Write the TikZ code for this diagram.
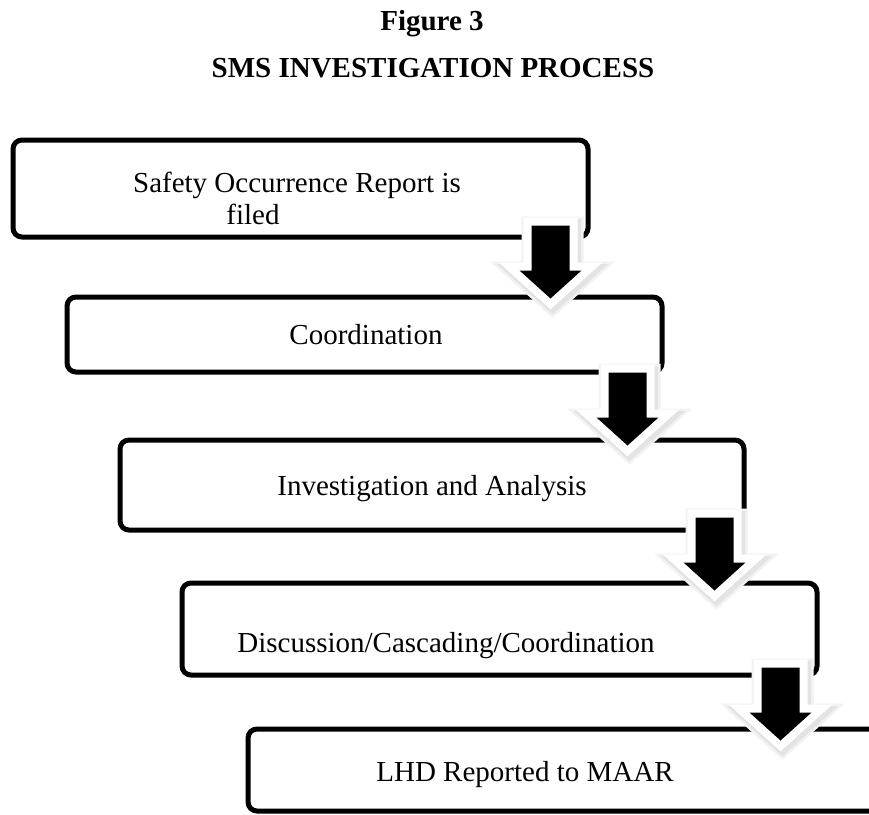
\documentclass[tikz,border=0pt]{standalone}
\usepackage{fontspec}
\setmainfont{Liberation Serif}
\usetikzlibrary{calc}
\tikzset{
  stepbox/.style={draw, line width=5pt, rounded corners=9pt, fill=white, inner sep=0pt},
  boxtext/.style={font=\fontsize{29}{32}\selectfont, inner sep=0pt, anchor=base},
  figtitle/.style={font=\fontsize{29}{32}\selectfont\bfseries, inner sep=0pt, anchor=base},
  flowarrow/.pic={
    % soft shadow, white rim, black arrow
    \filldraw[black!5, line width=24pt, line join=miter, miter limit=10, shift={(2,3)}]
      (-19,0) -- (19,0) -- (19,45) -- (31,45) -- (0,73) -- (-31,45) -- (-19,45) -- cycle;
    \filldraw[black!11, line width=19pt, line join=miter, miter limit=10, shift={(2,3)}]
      (-19,0) -- (19,0) -- (19,45) -- (31,45) -- (0,73) -- (-31,45) -- (-19,45) -- cycle;
    \filldraw[white, line width=16pt, line join=miter, miter limit=10]
      (-19,0) -- (19,0) -- (19,45) -- (31,45) -- (0,73) -- (-31,45) -- (-19,45) -- cycle;
    \fill[black]
      (-19,0) -- (19,0) -- (19,45) -- (31,45) -- (0,73) -- (-31,45) -- (-19,45) -- cycle;
  },
}

\begin{document}
\begin{tikzpicture}[x=1pt, y=-1pt]
  \fill[white] (0,0) rectangle (869,814);
  \useasboundingbox (0,0) rectangle (869,814);

  \node[figtitle] (fig) at (432,30) {Figure 3};
  \node[figtitle] (title) at (433,77) {SMS INVESTIGATION PROCESS};

  % the five steps
  \node[stepbox, minimum width=575pt, minimum height=97pt] (b1) at (300.5,188.5) {};
  \node[stepbox, minimum width=595pt, minimum height=75pt] (b2) at (364.5,334.5) {};
  \node[stepbox, minimum width=624pt, minimum height=90pt] (b3) at (432,485) {};
  \node[stepbox, minimum width=635pt, minimum height=92pt] (b4) at (499.5,629) {};
  \node[stepbox, minimum width=652pt, minimum height=82pt] (b5) at (574,770) {};

  \node[boxtext, anchor=center, align=center] (t1) at (297,198)
    {Safety Occurrence Report is\\filed\hspace*{88pt}};
  \node[boxtext] (t2) at (366,344) {Coordination};
  \node[boxtext] (t3) at (432,495) {Investigation and Analysis};
  \node[boxtext] (t4) at (446,652) {Discussion/Cascading/Coordination};
  \node[boxtext] (t5) at (525,781) {LHD Reported to MAAR};

  % arrows between the steps
  \pic (a1) at ($(b1.south east)+(-40,-14)$) {flowarrow};
  \pic (a2) at ($(b2.south east)+(-37,-2)$) {flowarrow};
  \pic (a3) at ($(b3.south east)+(-32,-15)$) {flowarrow};
  \pic (a4) at ($(b4.south east)+(-39,-10)$) {flowarrow};
\end{tikzpicture}
\end{document}
